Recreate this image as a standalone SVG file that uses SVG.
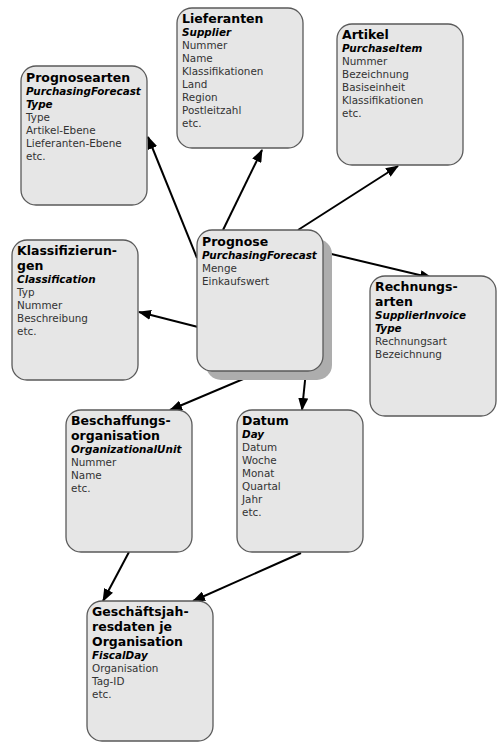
<svg xmlns="http://www.w3.org/2000/svg" width="499" height="745" viewBox="0 0 499 745">
<defs>
<style>
.box{fill:#e6e6e6;stroke:#5a5a5a;stroke-width:1.3}
.shadow{fill:#adadad;stroke:none}
.t{font-family:"DejaVu Sans",Verdana,sans-serif;font-size:12.5px;font-weight:bold;fill:#000}
.s{font-family:"DejaVu Sans",Verdana,sans-serif;font-size:10.4px;font-weight:bold;font-style:italic;fill:#000}
.b{font-family:"DejaVu Sans",Verdana,sans-serif;font-size:10.4px;fill:#333}
.c{stroke:#000;stroke-width:2;fill:none;marker-end:url(#arr)}
</style>
<marker id="arr" markerUnits="userSpaceOnUse" markerWidth="13" markerHeight="10" refX="12" refY="5" orient="auto">
<path d="M0,0 L13,5 L0,10 z" fill="#000"/>
</marker>
</defs>
<rect width="499" height="745" fill="#fff"/>

<g id="connectors">
<line class="c" x1="197" y1="258" x2="148" y2="137"/>
<line class="c" x1="223" y1="230" x2="262" y2="150"/>
<line class="c" x1="298" y1="230" x2="398" y2="166"/>
<line class="c" x1="323" y1="252" x2="432" y2="278"/>
<line class="c" x1="198" y1="327" x2="139" y2="312"/>
<line class="c" x1="262" y1="371" x2="170" y2="410"/>
<line class="c" x1="306" y1="371" x2="302" y2="410"/>
<line class="c" x1="129" y1="552" x2="103" y2="601"/>
<line class="c" x1="301" y1="553" x2="193" y2="601"/>
</g>

<g id="prognosearten">
<rect class="box" x="21" y="66" width="126" height="139" rx="15"/>
<text class="t" x="26" y="81.5">Prognosearten</text>
<text class="s" x="26" y="94.5">PurchasingForecast</text>
<text class="s" x="26" y="107.5">Type</text>
<text class="b" x="26" y="120.5">Type</text>
<text class="b" x="26" y="133.5">Artikel-Ebene</text>
<text class="b" x="26" y="146.5">Lieferanten-Ebene</text>
<text class="b" x="26" y="159.5">etc.</text>
</g>

<g id="lieferanten">
<rect class="box" x="177" y="8" width="126" height="140" rx="15"/>
<text class="t" x="182" y="23">Lieferanten</text>
<text class="s" x="182" y="36">Supplier</text>
<text class="b" x="182" y="49">Nummer</text>
<text class="b" x="182" y="62">Name</text>
<text class="b" x="182" y="75">Klassifikationen</text>
<text class="b" x="182" y="88">Land</text>
<text class="b" x="182" y="101">Region</text>
<text class="b" x="182" y="114">Postleitzahl</text>
<text class="b" x="182" y="127">etc.</text>
</g>

<g id="artikel">
<rect class="box" x="337" y="24" width="126" height="141" rx="15"/>
<text class="t" x="342" y="39">Artikel</text>
<text class="s" x="342" y="52">PurchaseItem</text>
<text class="b" x="342" y="65">Nummer</text>
<text class="b" x="342" y="78">Bezeichnung</text>
<text class="b" x="342" y="91">Basiseinheit</text>
<text class="b" x="342" y="104">Klassifikationen</text>
<text class="b" x="342" y="117">etc.</text>
</g>

<g id="klassifizierungen">
<rect class="box" x="12" y="240" width="126" height="140" rx="15"/>
<text class="t" x="17" y="255">Klassifizierun-</text>
<text class="t" x="17" y="270">gen</text>
<text class="s" x="17" y="283">Classification</text>
<text class="b" x="17" y="296">Typ</text>
<text class="b" x="17" y="309">Nummer</text>
<text class="b" x="17" y="322">Beschreibung</text>
<text class="b" x="17" y="335">etc.</text>
</g>

<g id="prognose">
<rect class="shadow" x="206" y="239" width="126" height="141" rx="15"/>
<rect class="box" x="197" y="230" width="126" height="141" rx="15"/>
<text class="t" x="202" y="245.5">Prognose</text>
<text class="s" x="202" y="258.5">PurchasingForecast</text>
<text class="b" x="202" y="271.5">Menge</text>
<text class="b" x="202" y="284.5">Einkaufswert</text>
</g>

<g id="rechnungsarten">
<rect class="box" x="370" y="276" width="126" height="140" rx="15"/>
<text class="t" x="375" y="291">Rechnungs-</text>
<text class="t" x="375" y="306">arten</text>
<text class="s" x="375" y="319">SupplierInvoice</text>
<text class="s" x="375" y="332">Type</text>
<text class="b" x="375" y="345">Rechnungsart</text>
<text class="b" x="375" y="358">Bezeichnung</text>
</g>

<g id="beschaffungsorganisation">
<rect class="box" x="66" y="410" width="126" height="142" rx="15"/>
<text class="t" x="71" y="425">Beschaffungs-</text>
<text class="t" x="71" y="440">organisation</text>
<text class="s" x="71" y="453">OrganizationalUnit</text>
<text class="b" x="71" y="466">Nummer</text>
<text class="b" x="71" y="479">Name</text>
<text class="b" x="71" y="492">etc.</text>
</g>

<g id="datum">
<rect class="box" x="237" y="410" width="126" height="142" rx="15"/>
<text class="t" x="242" y="425">Datum</text>
<text class="s" x="242" y="438">Day</text>
<text class="b" x="242" y="451">Datum</text>
<text class="b" x="242" y="464">Woche</text>
<text class="b" x="242" y="477">Monat</text>
<text class="b" x="242" y="490">Quartal</text>
<text class="b" x="242" y="503">Jahr</text>
<text class="b" x="242" y="516">etc.</text>
</g>

<g id="geschaeftsjahresdaten">
<rect class="box" x="87" y="601" width="126" height="140" rx="15"/>
<text class="t" x="92" y="616">Geschäftsjah-</text>
<text class="t" x="92" y="631">resdaten je</text>
<text class="t" x="92" y="646">Organisation</text>
<text class="s" x="92" y="659">FiscalDay</text>
<text class="b" x="92" y="672">Organisation</text>
<text class="b" x="92" y="685">Tag-ID</text>
<text class="b" x="92" y="698">etc.</text>
</g>
</svg>
